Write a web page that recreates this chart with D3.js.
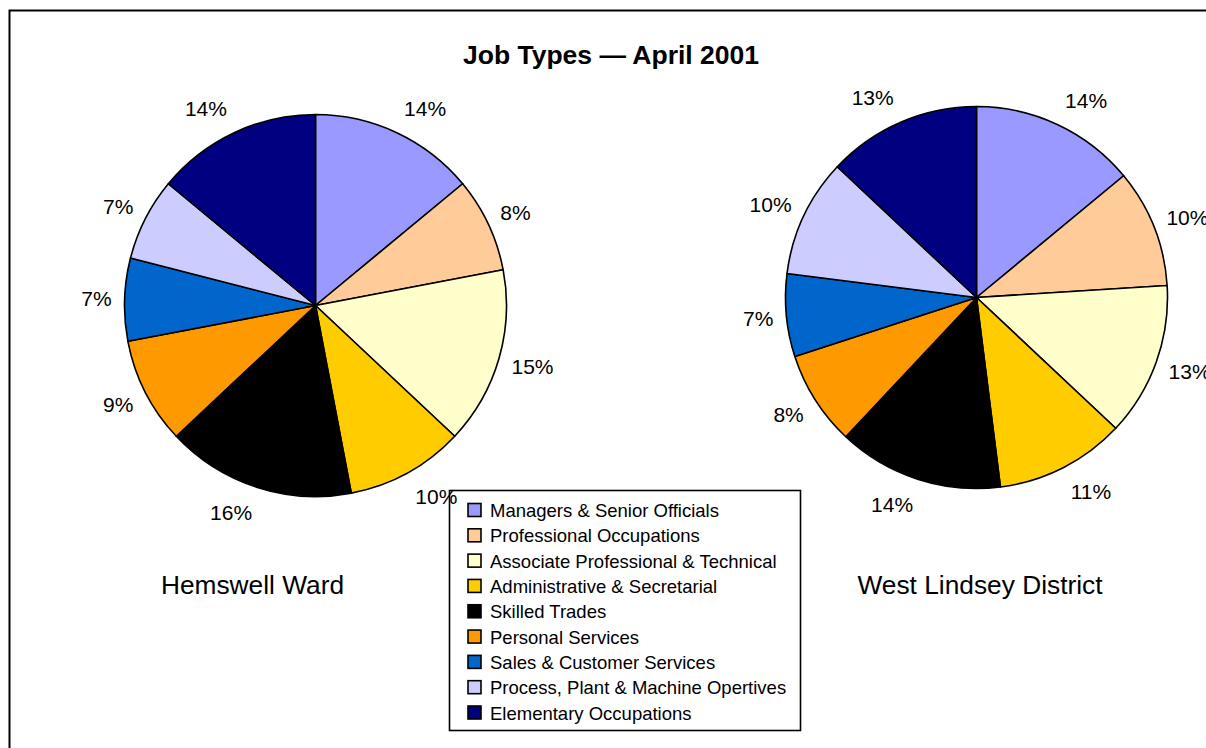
<!DOCTYPE html>
<html>
<head>
<meta charset="utf-8">
<script src="https://cdn.jsdelivr.net/npm/d3@7"></script>
<style>
  html, body { margin: 0; padding: 0; background: #fff; }
  svg { display: block; font-family: "Liberation Sans", Arial, sans-serif; }
</style>
</head>
<body>
<svg id="chart" width="1206" height="748"></svg>
<script>
// Occupation groups, in drawing order (clockwise from 12 o'clock)
const categories = [
  "Managers & Senior Officials",
  "Professional Occupations",
  "Associate Professional & Technical",
  "Administrative & Secretarial",
  "Skilled Trades",
  "Personal Services",
  "Sales & Customer Services",
  "Process, Plant & Machine Opertives",
  "Elementary Occupations"
];
const colors = ["#9999FF", "#FFCC99", "#FFFFCC", "#FFCC00", "#000000",
                "#FF9900", "#0066CC", "#CCCCFF", "#000080"];

// Share of employed residents (%)
const hemswellWard = [14, 8, 15, 10, 16, 9, 7, 7, 14];
const westLindsey  = [14, 10, 13, 11, 14, 8, 7, 10, 13];

const areaNames = ["Hemswell Ward", "West Lindsey District"];
const title = "Job Types \u2014 April 2001";

const svg = d3.select("#chart");

// Outer chart frame
svg.append("rect")
  .attr("x", 9.5).attr("y", 10.5)
  .attr("width", 1400).attr("height", 900)
  .attr("fill", "none").attr("stroke", "#000").attr("stroke-width", 2);

svg.append("text")
  .attr("x", 611).attr("y", 64)
  .attr("text-anchor", "middle")
  .attr("font-size", 26.5).attr("font-weight", "bold")
  .text(title);

const radius = 191;
const pie = d3.pie().sort(null).value(d => d);
const arc = d3.arc().innerRadius(0).outerRadius(radius);

function drawPie(values, cx, cy, name, nameX) {
  const g = svg.append("g").attr("transform", `translate(${cx},${cy})`);
  const arcs = pie(values);

  g.selectAll("path")
    .data(arcs)
    .join("path")
    .attr("d", arc)
    .attr("fill", (d, i) => colors[i])
    .attr("stroke", "#000")
    .attr("stroke-width", 1.6)
    .attr("stroke-linejoin", "round");

  // Percentage labels sit outside the rim, box pushed away from the pie
  const labels = g.selectAll("text.pct")
    .data(arcs)
    .join("text")
    .attr("class", "pct")
    .attr("font-size", 21)
    .attr("text-anchor", "middle")
    .text(d => d.data + "%");

  labels.each(function(d) {
    const a = (d.startAngle + d.endAngle) / 2;
    const s = Math.sin(a), c = Math.cos(a);
    const hw = this.getComputedTextLength() / 2 + 3;
    const R = radius + 10;
    const push = Math.max(-1, Math.min(1, 3 * s));
    const x = R * s + hw * push;
    const y = -R * c - 17 * c;
    d3.select(this).attr("x", x).attr("y", y + 7.5);
  });

  svg.append("text")
    .attr("x", nameX).attr("y", 594)
    .attr("text-anchor", "middle")
    .attr("font-size", 26.3)
    .text(name);
}

drawPie(hemswellWard, 315.5, 305.5, areaNames[0], 252.5);
drawPie(westLindsey, 976.5, 297.5, areaNames[1], 980);

// Legend
const legend = svg.append("g");
legend.append("rect")
  .attr("x", 449.5).attr("y", 490.5)
  .attr("width", 351).attr("height", 240)
  .attr("fill", "none").attr("stroke", "#000").attr("stroke-width", 1.6);

const rowY = d3.scaleLinear().domain([0, categories.length - 1]).range([510, 712.5]);
const rows = legend.selectAll("g.row")
  .data(categories)
  .join("g")
  .attr("class", "row")
  .attr("transform", (d, i) => `translate(0,${rowY(i)})`);

rows.append("rect")
  .attr("x", 468).attr("y", -6.5)
  .attr("width", 13).attr("height", 13)
  .attr("fill", (d, i) => colors[i])
  .attr("stroke", "#000").attr("stroke-width", 1.6);

rows.append("text")
  .attr("x", 490).attr("y", 7)
  .attr("font-size", 18.5)
  .text(d => d);
</script>
</body>
</html>
